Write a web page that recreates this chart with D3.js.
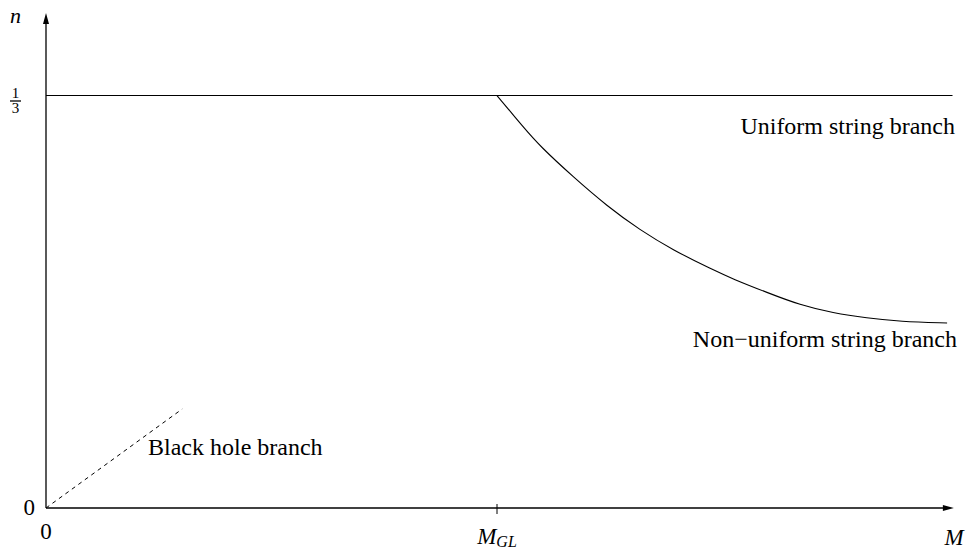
<!DOCTYPE html>
<html>
<head>
<meta charset="utf-8">
<script src="https://cdn.jsdelivr.net/npm/d3@7"></script>
<style>
  body { margin: 0; background: #fff; }
  text { font-family: "Liberation Serif", "Times New Roman", serif; fill: #000; }
</style>
</head>
<body>
<div id="wrapper"></div>
<script>
// data (M in units of M_GL, n as fraction)
const uniformBranch = [[0, 1/3], [2.01, 1/3]]
const nonUniformM = [1.0, 1.058, 1.095, 1.169, 1.244, 1.317, 1.390, 1.477, 1.523, 1.599, 1.672, 1.745, 1.820, 1.894, 1.998]
const nonUniformN = [0.3333, 0.3079, 0.2925, 0.2675, 0.2440, 0.2246, 0.2085, 0.1927, 0.1851, 0.1741, 0.1640, 0.1576, 0.1535, 0.1507, 0.1495]
const blackHoleBranch = [[0, 0], [0.302, 0.08]]
const mGL = 1

const width = 966
const height = 550

const svg = d3.select("#wrapper")
  .append("svg")
    .attr("width", width)
    .attr("height", height)

// scales
const x = d3.scaleLinear().domain([0, 2]).range([46, 948])
const y = d3.scaleLinear().domain([0, 1/3]).range([508, 95.5])

const line = d3.line()
  .x(d => x(d[0]))
  .y(d => y(d[1]))

// axes
svg.append("line")
  .attr("x1", x(0)).attr("x2", x(2.0))
  .attr("y1", y(0)).attr("y2", y(0))
  .attr("stroke", "#000").attr("stroke-width", 1.3)
svg.append("path")
  .attr("d", `M${x(2.013)},${y(0)} L${x(2.013) - 11},${y(0) - 3} L${x(2.013) - 11},${y(0) + 3} Z`)
  .attr("fill", "#000")

svg.append("line")
  .attr("x1", x(0)).attr("x2", x(0))
  .attr("y1", y(0)).attr("y2", y(0.395))
  .attr("stroke", "#000").attr("stroke-width", 1.3)
svg.append("path")
  .attr("d", `M${x(0)},${y(0.4)} L${x(0) - 3},${y(0.4) + 11} L${x(0) + 3},${y(0.4) + 11} Z`)
  .attr("fill", "#000")

// M_GL tick
svg.append("line")
  .attr("x1", x(mGL)).attr("x2", x(mGL))
  .attr("y1", y(0) - 4).attr("y2", y(0) + 6)
  .attr("stroke", "#000").attr("stroke-width", 1)

// branches
svg.append("path")
  .datum(uniformBranch)
  .attr("d", line)
  .attr("fill", "none").attr("stroke", "#000").attr("stroke-width", 1.1)

svg.append("path")
  .datum(d3.zip(nonUniformM, nonUniformN))
  .attr("d", d3.line().x(d => x(d[0])).y(d => y(d[1])).curve(d3.curveBasis))
  .attr("fill", "none").attr("stroke", "#000").attr("stroke-width", 1.1)

svg.append("path")
  .datum(blackHoleBranch)
  .attr("d", line)
  .attr("fill", "none").attr("stroke", "#000").attr("stroke-width", 1)
  .attr("stroke-dasharray", "4,4")

// labels
svg.append("text").attr("x", 955).attr("y", 134)
  .attr("text-anchor", "end").style("font-size", "24px")
  .text("Uniform string branch")
svg.append("text").attr("x", 957).attr("y", 347)
  .attr("text-anchor", "end").style("font-size", "24px")
  .text("Non\u2212uniform string branch")
svg.append("text").attr("x", 148).attr("y", 455)
  .style("font-size", "24px")
  .text("Black hole branch")

// axis labels
svg.append("text").attr("x", 10).attr("y", 23)
  .style("font-size", "22px").style("font-style", "italic")
  .text("n")
svg.append("text").attr("x", 15.5).attr("y", 98)
  .attr("text-anchor", "middle").style("font-size", "15px")
  .text("1")
svg.append("line")
  .attr("x1", 10).attr("x2", 21)
  .attr("y1", 101).attr("y2", 101)
  .attr("stroke", "#000").attr("stroke-width", 1.3)
svg.append("text").attr("x", 15.5).attr("y", 113)
  .attr("text-anchor", "middle").style("font-size", "15px")
  .text("3")
svg.append("text").attr("x", 35).attr("y", 515)
  .attr("text-anchor", "end").style("font-size", "23px")
  .text("0")
svg.append("text").attr("x", x(0)).attr("y", 539)
  .attr("text-anchor", "middle").style("font-size", "23px")
  .text("0")

const mgl = svg.append("text").attr("x", x(mGL)).attr("y", 544)
  .attr("text-anchor", "middle").style("font-size", "23px").style("font-style", "italic")
mgl.append("tspan").text("M")
mgl.append("tspan").attr("dy", 3).style("font-size", "16px").text("GL")

svg.append("text").attr("x", 954).attr("y", 545)
  .attr("text-anchor", "middle").style("font-size", "23px").style("font-style", "italic")
  .text("M")
</script>
</body>
</html>
